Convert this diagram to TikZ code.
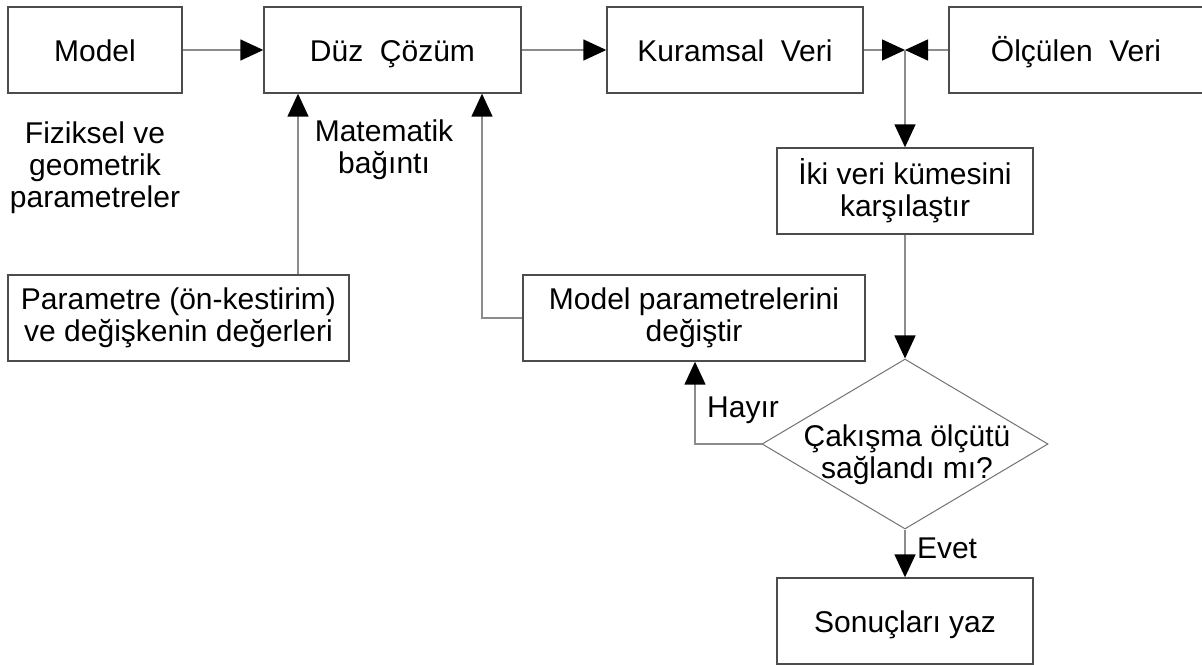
\documentclass[tikz,border=0pt]{standalone}
\usepackage{fontspec}
\setmainfont{Liberation Sans}
\usetikzlibrary{arrows.meta,shapes.geometric}
\definecolor{boxc}{gray}{0.3}
\definecolor{connc}{gray}{0.55}
\definecolor{diac}{gray}{0.45}
\tikzset{
  box/.style={draw=boxc, line width=0.7pt, rectangle, inner sep=0pt, minimum height=43pt, align=center, font=\fontsize{15}{16}\selectfont},
  onebox/.style={box, text height=11pt, text depth=0pt},
  txt/.style={inner sep=0pt, align=center, font=\fontsize{15}{16}\selectfont},
  dia/.style={draw=diac, line width=0.5pt, diamond, inner sep=0pt, minimum width=143pt, minimum height=85pt},
  conn/.style={draw=connc, line width=0.75pt, -{Triangle[length=11.5pt,width=10.5pt,color=black]}}
}
\begin{document}
\begin{tikzpicture}[x=0.5pt,y=-0.5pt]
\useasboundingbox (0,0) rectangle (1202,664);
\fill[white] (0,0) rectangle (1202,664);
% boxes
\node[onebox, minimum width=87pt] (model) at (95,50) {Model};
\node[onebox, minimum width=128.5pt] (duz) at (392.5,50) {Düz\ \ Çözüm};
\node[onebox, minimum width=128pt] (kur) at (735,50) {Kuramsal\ \ Veri};
\node[onebox, minimum width=127pt] (olc) at (1076,50) {Ölçülen\ \ Veri};
\node[box, minimum width=128pt] (iki) at (905,191) {İki veri kümesini\\karşılaştır};
\node[box, minimum width=170.5pt] (param) at (178.5,318) {Parametre (ön-kestirim)\\ve değişkenin değerleri};
\node[box, minimum width=171pt] (mpar) at (694,318) {Model parametrelerini\\değiştir};
\node[dia] (dec) at (905,444) {};
\node[txt] (dectext) at (907,455) {Çakışma ölçütü\\sağlandı mı?};
\node[onebox, minimum width=128pt] (son) at (905,621) {Sonuçları yaz};
% free labels
\node[txt] (fiz) at (95,168) {Fiziksel ve\\geometrik\\parametreler};
\node[txt] (mat) at (384,150) {Matematik\\bağıntı};
\node[txt] (hay) at (743,410) {Hayır};
\node[txt] (evet) at (947,548) {Evet};
% helper coordinates
\coordinate (meet) at (905,50);
\coordinate (lx) at (298,0);
\coordinate (rx) at (482,0);
\coordinate (hx) at (695,0);
% connectors
\draw[conn] (model) -- (duz);
\draw[conn] (duz) -- (kur);
\draw[conn] (kur) -- (meet);
\draw[conn] (olc) -- (meet);
\draw[conn] (meet) -- (iki);
\draw[conn] (iki) -- (dec);
\draw[conn] (dec) -- (son);
\draw[conn] (dec.west) -| (mpar.south -| hx);
\draw[conn] (param.north -| lx) -- (duz.south -| lx);
\draw[conn] (mpar.west) -| (duz.south -| rx);
\end{tikzpicture}
\end{document}
